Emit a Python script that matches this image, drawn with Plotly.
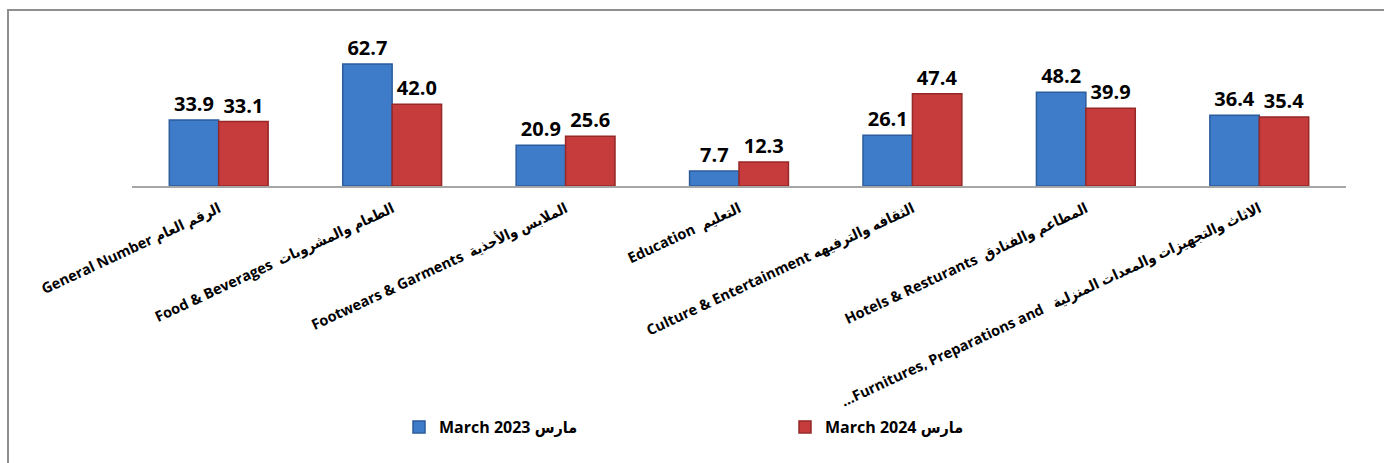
import plotly.graph_objects as go

# Category labels (English + Arabic) on the x axis
categories = [
    "General Number الرقم العام",
    "Food & Beverages  الطعام والمشروبات",
    "Footwears & Garments  الملابس والأحذية",
    "Education  التعليم",
    "Culture & Entertainment الثقافه والترفيهه",
    "Hotels & Resturants  المطاعم والفنادق",
    "...Furnitures, Preparations and   الاثاث والتجهيزات والمعدات المنزلية",
]

# Values for each period
march_2023 = [33.9, 62.7, 20.9, 7.7, 26.1, 48.2, 36.4]
march_2024 = [33.1, 42.0, 25.6, 12.3, 47.4, 39.9, 35.4]

series_names = ["March 2023 مارس", "March 2024 مارس"]

W, H = 1384, 463
L, R, T, B = 132, 38, 26, 277
plot_w = W - L - R
plot_h = H - T - B
y_max = 82.2

font_family = "Open Sans, DejaVu Sans Condensed, DejaVu Sans, sans-serif"

fig = go.Figure()
fig.add_trace(go.Bar(
    x=categories, y=march_2023, name=series_names[0],
    marker=dict(color="#3E7BC8", line=dict(color="#2B5C9C", width=1.5)),
    text=[f"{v:.1f}" for v in march_2023], textposition="outside",
    textfont=dict(family=font_family, size=20, color="#000000", weight="bold"),
    cliponaxis=False,
))
fig.add_trace(go.Bar(
    x=categories, y=march_2024, name=series_names[1],
    marker=dict(color="#C63B3B", line=dict(color="#962828", width=1.5)),
    text=[f"{v:.1f}" for v in march_2024], textposition="outside",
    textfont=dict(family=font_family, size=20, color="#000000", weight="bold"),
    cliponaxis=False,
))

# Outer frame around the chart area
px_to_x = lambda px: (px - L) / plot_w
px_to_y = lambda py: (H - B - py) / plot_h
fig.add_shape(type="rect", xref="paper", yref="paper",
              x0=px_to_x(8), x1=px_to_x(1400), y0=px_to_y(480), y1=px_to_y(10),
              line=dict(color="#8E8E8E", width=2), fillcolor="rgba(0,0,0,0)",
              layer="below")

fig.update_layout(
    width=W, height=H,
    margin=dict(l=L, r=R, t=T, b=B, autoexpand=False),
    paper_bgcolor="white", plot_bgcolor="white",
    barmode="group", bargap=0.43, bargroupgap=0.0,
    font=dict(family=font_family, color="#000000"),
    xaxis=dict(
        showline=True, linecolor="#A6A6A6", linewidth=2,
        ticks="", tickangle=-25, automargin=False, ticklabelstandoff=7,
        tickfont=dict(family=font_family, size=14.5, color="#000000", weight="bold"),
        showgrid=False, zeroline=False,
    ),
    yaxis=dict(range=[0, y_max], visible=False, showgrid=False, zeroline=False),
    legend=dict(
        orientation="h", xref="container", yref="container",
        x=399 / W, y=1 - 410 / H, xanchor="left", yanchor="top",
        entrywidth=341, entrywidthmode="pixels",
        font=dict(family=font_family, size=16, color="#000000", weight="bold"),
        itemwidth=30, bgcolor="rgba(0,0,0,0)",
    ),
    showlegend=True,
)

fig.write_html("out.html")
